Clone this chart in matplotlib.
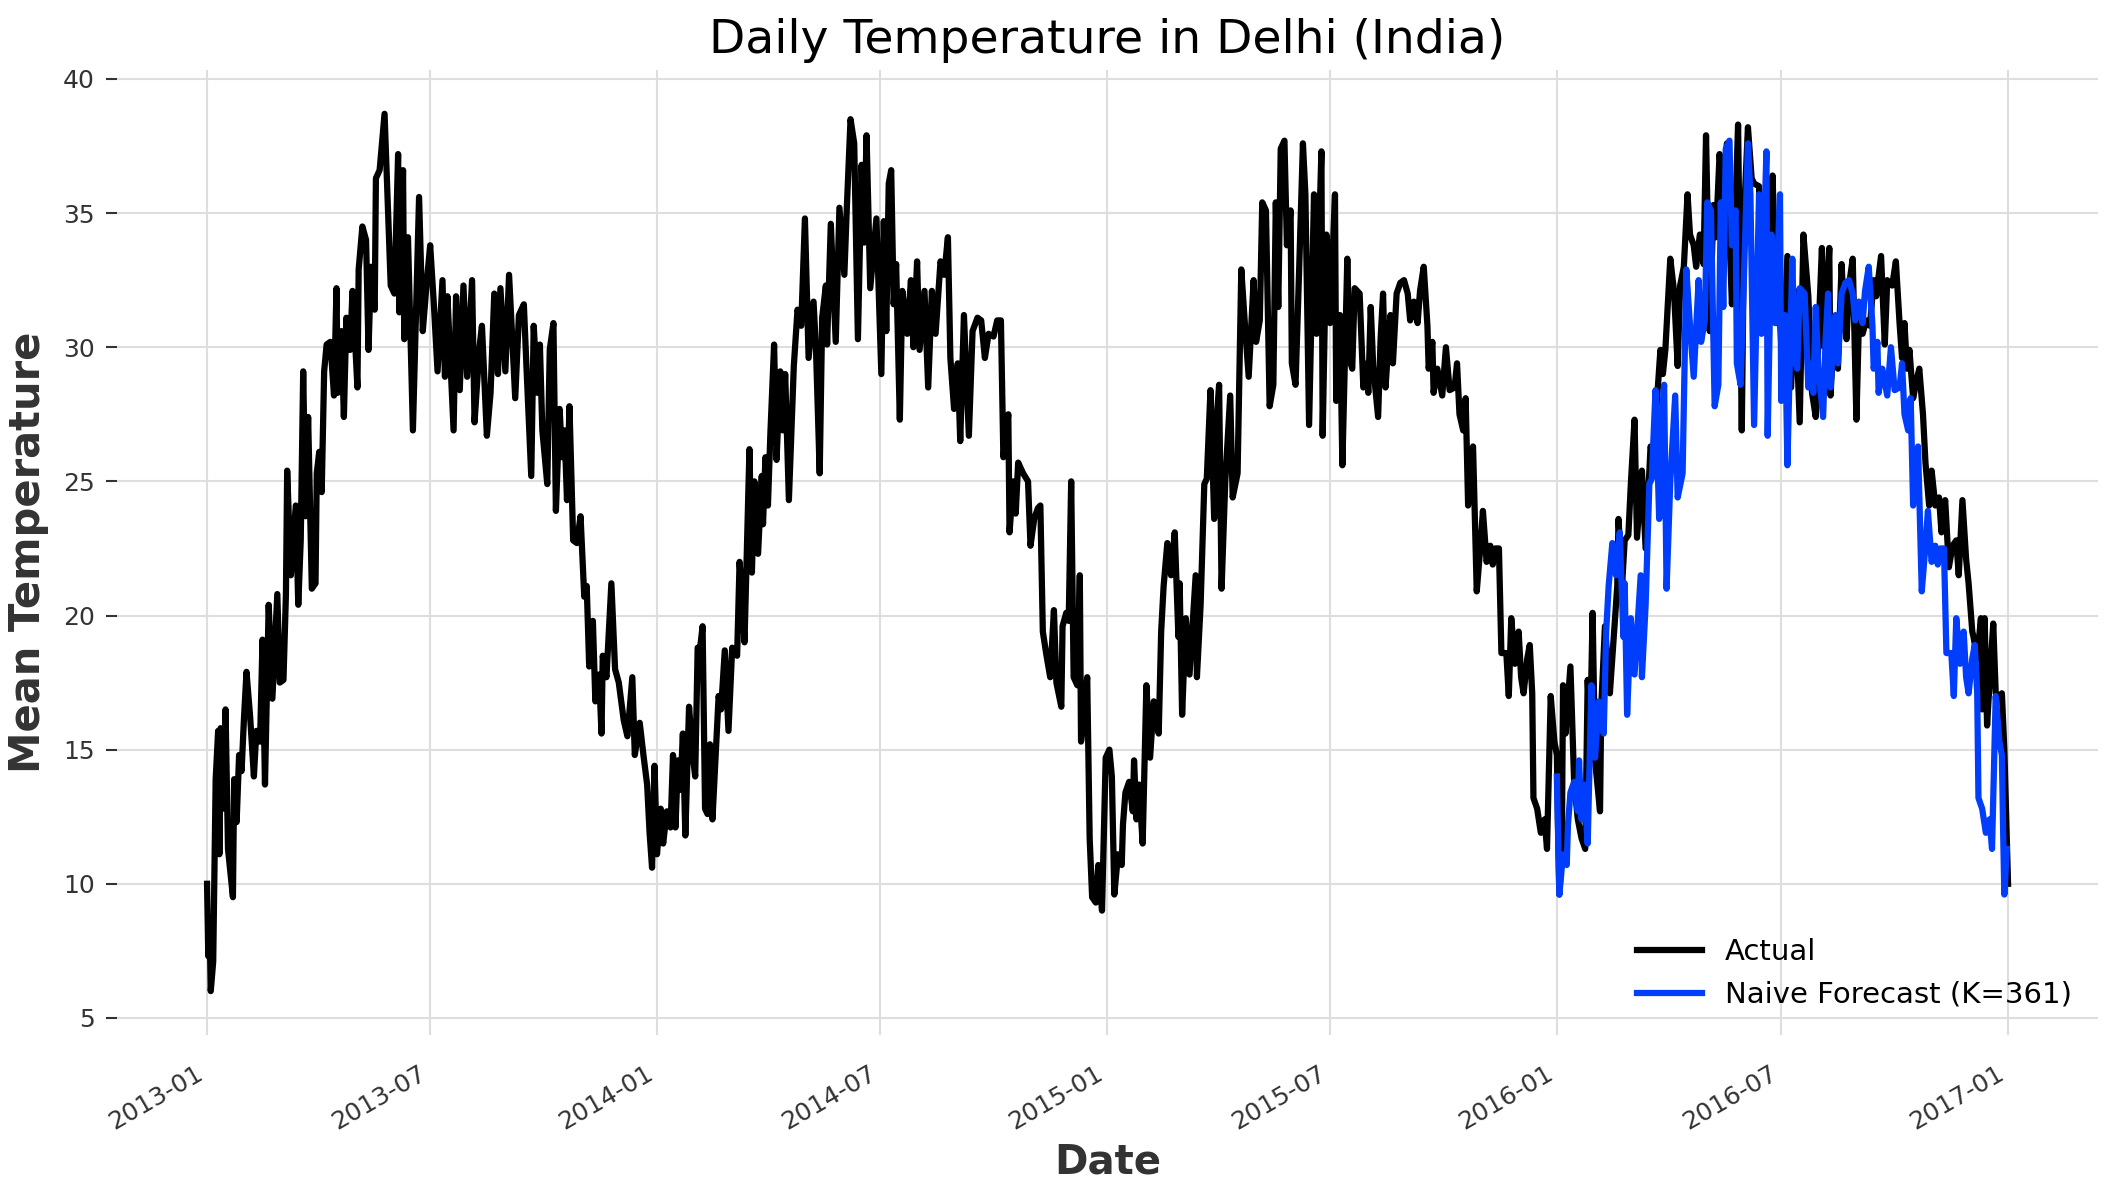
import numpy as np
import matplotlib
matplotlib.use("Agg")
import matplotlib.pyplot as plt
import matplotlib.dates as mdates

# Daily mean temperature in Delhi (days counted from 2013-01-01)
start_date = np.datetime64("2013-01-01")
day_offsets = [
    0, 1, 2, 3, 5, 7, 9, 10, 11, 13, 15, 17, 21, 22, 24, 26, 28, 30, 32, 35,
    38, 40, 43, 45, 47, 50, 53, 57, 59, 62, 64, 65, 68, 72, 74, 76, 78, 80, 82, 85,
    88, 89, 91, 93, 95, 97, 100, 103, 105, 106, 109, 111, 113, 116, 118, 122, 123, 126, 129, 131,
    133, 136, 137, 140, 144, 149, 152, 155, 156, 159, 160, 163, 167, 172, 175, 178, 181, 184, 187, 191,
    193, 195, 200, 202, 205, 208, 211, 215, 217, 221, 223, 227, 230, 233, 236, 238, 242, 245, 250, 253,
    257, 259, 263, 265, 268, 270, 272, 276, 278, 281, 283, 286, 288, 290, 292, 294, 297, 300, 303, 306,
    308, 310, 313, 315, 318, 320, 321, 324, 328, 331, 334, 338, 341, 345, 347, 351, 354, 357, 359, 361,
    363, 365, 368, 370, 373, 376, 378, 380, 382, 384, 386, 388, 391, 394, 396, 398, 400, 402, 404, 406,
    408, 410, 413, 415, 417, 420, 423, 426, 430, 432, 434, 436, 440, 442, 444, 447, 450, 451, 453, 455,
    457, 460, 462, 465, 467, 469, 472, 476, 479, 482, 485, 488, 492, 494, 497, 499, 502, 503, 506, 510,
    513, 517, 519, 522, 525, 528, 531, 533, 535, 538, 543, 547, 549, 551, 553, 555, 557, 559, 562, 564,
    568, 571, 573, 576, 578, 582, 585, 588, 591, 595, 598, 601, 603, 606, 609, 611, 614, 618, 621, 625,
    628, 631, 634, 638, 641, 644, 646, 650, 651, 654, 656, 658, 662, 666, 668, 671, 674, 676, 678, 681,
    684, 687, 689, 693, 694, 697, 699, 701, 703, 706, 708, 709, 711, 714, 716, 718, 721, 723, 726, 729,
    732, 734, 736, 739, 742, 743, 745, 748, 751, 752, 754, 756, 759, 762, 765, 768, 772, 774, 776, 779,
    782, 785, 788, 789, 791, 794, 797, 802, 803, 806, 809, 811, 814, 817, 819, 821, 823, 826, 830, 832,
    836, 839, 842, 845, 849, 851, 854, 856, 859, 862, 865, 867, 869, 871, 874, 876, 879, 880, 883, 886,
    889, 891, 894, 898, 900, 902, 904, 905, 908, 911, 915, 916, 919, 921, 925, 927, 929, 931, 935, 938,
    941, 942, 944, 946, 950, 952, 954, 956, 958, 960, 962, 965, 968, 971, 974, 976, 979, 982, 984, 987,
    990, 991, 994, 995, 998, 1002, 1005, 1008, 1012, 1014, 1016, 1019, 1021, 1023, 1027, 1029, 1030, 1033, 1035, 1038,
    1041, 1043, 1045, 1048, 1050, 1054, 1056, 1058, 1061, 1064, 1066, 1068, 1071, 1073, 1075, 1076, 1079, 1082, 1085, 1087,
    1090, 1093, 1095, 1096, 1097, 1098, 1099, 1100, 1102, 1106, 1109, 1112, 1115, 1118, 1120, 1122, 1124, 1126, 1130, 1131,
    1134, 1138, 1141, 1144, 1145, 1148, 1150, 1153, 1155, 1158, 1160, 1164, 1167, 1171, 1174, 1176, 1179, 1181, 1183, 1187,
    1190, 1193, 1195, 1198, 1201, 1203, 1206, 1208, 1211, 1214, 1216, 1219, 1222, 1224, 1227, 1230, 1233, 1235, 1237, 1239,
    1242, 1245, 1247, 1250, 1253, 1255, 1259, 1262, 1264, 1268, 1270, 1273, 1276, 1278, 1282, 1285, 1288, 1292, 1295, 1299,
    1302, 1305, 1308, 1310, 1312, 1316, 1317, 1320, 1323, 1326, 1328, 1330, 1332, 1335, 1338, 1340, 1343, 1346, 1349, 1352,
    1354, 1358, 1361, 1363, 1367, 1370, 1373, 1375, 1377, 1379, 1381, 1384, 1387, 1389, 1392, 1394, 1397, 1399, 1402, 1405,
    1407, 1410, 1413, 1416, 1419, 1421, 1424, 1427, 1429, 1432, 1433, 1436, 1439, 1440, 1442, 1444, 1446, 1449, 1451, 1454,
    1456, 1458, 1460, 1461,
]
temps = [
    10.0, 7.3, 8.7, 6.0, 7.1, 13.9, 15.7, 11.1, 15.8, 12.8, 16.5, 11.3, 9.5, 13.9, 12.3, 14.8, 14.2, 16.2, 17.9, 16.2,
    14.0, 15.7, 15.3, 19.1, 13.7, 20.4, 16.9, 20.8, 17.5, 17.6, 20.8, 25.4, 21.5, 24.1, 20.4, 22.8, 29.1, 23.7, 27.4, 21.0,
    21.2, 25.3, 26.1, 24.6, 29.1, 30.1, 30.2, 28.2, 32.2, 28.3, 30.6, 27.4, 31.1, 29.9, 32.1, 28.5, 32.9, 34.5, 34.0, 29.9,
    33.0, 31.4, 36.3, 36.6, 38.7, 32.3, 32.0, 37.2, 31.3, 36.6, 30.3, 34.1, 26.9, 35.6, 30.6, 32.3, 33.8, 31.6, 29.1, 32.5,
    28.9, 31.9, 26.9, 31.9, 28.4, 32.3, 28.9, 32.5, 27.2, 30.0, 30.8, 26.7, 28.3, 32.0, 29.0, 32.2, 29.1, 32.7, 28.1, 31.2,
    31.6, 29.4, 25.2, 30.8, 28.3, 30.1, 26.9, 24.9, 29.9, 30.9, 23.9, 27.7, 25.9, 26.9, 24.3, 27.8, 22.8, 22.7, 23.7, 20.7,
    21.1, 18.1, 19.8, 16.8, 17.8, 15.6, 18.5, 17.7, 21.2, 18.0, 17.5, 16.1, 15.5, 17.7, 14.8, 16.0, 14.8, 13.7, 11.9, 10.6,
    14.4, 11.1, 12.8, 11.5, 12.7, 12.1, 14.8, 12.1, 14.6, 13.5, 15.6, 11.8, 16.6, 14.8, 14.0, 18.8, 18.8, 19.6, 12.8, 12.6,
    15.2, 12.4, 15.2, 17.0, 16.5, 18.7, 15.7, 18.8, 18.5, 22.0, 20.7, 19.0, 26.2, 21.6, 25.0, 22.3, 25.2, 23.4, 25.9, 24.1,
    26.8, 30.1, 25.8, 29.1, 26.9, 29.0, 24.3, 29.3, 31.4, 30.8, 34.8, 29.6, 31.7, 29.9, 25.3, 31.1, 32.3, 30.1, 34.6, 30.2,
    35.2, 32.7, 35.2, 38.5, 37.6, 30.3, 36.8, 33.9, 37.9, 32.2, 34.8, 29.0, 34.7, 30.6, 36.1, 36.6, 31.6, 33.1, 27.3, 32.1,
    30.5, 32.5, 30.0, 33.2, 29.9, 32.1, 28.5, 32.1, 30.5, 33.2, 32.7, 34.1, 29.6, 27.7, 29.4, 26.5, 31.2, 26.7, 30.6, 31.1,
    31.0, 29.6, 30.5, 30.4, 31.0, 31.0, 25.9, 27.5, 23.1, 25.0, 23.8, 25.7, 25.3, 25.0, 22.6, 23.6, 24.0, 24.1, 19.4, 18.5,
    17.7, 20.2, 17.5, 16.6, 19.6, 20.1, 19.8, 25.0, 17.7, 17.4, 21.5, 15.3, 16.1, 17.7, 11.7, 9.5, 9.3, 10.7, 9.0, 14.7,
    15.0, 14.0, 9.6, 11.1, 10.7, 12.2, 13.4, 13.8, 12.7, 14.6, 12.4, 13.7, 11.5, 17.4, 14.7, 16.8, 15.6, 19.4, 21.1, 22.7,
    21.5, 23.1, 19.2, 21.2, 16.3, 19.9, 17.8, 21.5, 17.7, 20.4, 24.9, 25.1, 28.4, 23.6, 27.3, 28.6, 21.0, 25.0, 28.2, 24.4,
    25.3, 32.9, 30.8, 28.9, 32.5, 30.2, 31.0, 35.4, 35.1, 27.8, 28.6, 35.4, 31.5, 37.4, 37.7, 33.8, 35.1, 29.4, 28.6, 33.0,
    37.6, 35.7, 27.1, 35.7, 30.5, 34.1, 37.3, 26.7, 34.2, 30.9, 35.7, 28.0, 31.2, 25.6, 33.3, 29.5, 29.2, 32.2, 32.0, 28.5,
    29.4, 28.3, 31.5, 29.3, 27.4, 30.3, 32.0, 28.5, 29.9, 31.2, 29.4, 32.0, 32.4, 32.5, 32.0, 31.0, 31.7, 30.9, 32.1, 33.0,
    30.8, 29.2, 30.2, 28.3, 29.2, 28.2, 30.0, 28.4, 28.5, 29.4, 27.5, 26.9, 28.1, 24.1, 26.3, 22.8, 20.9, 22.6, 23.9, 22.0,
    22.6, 21.9, 22.5, 22.5, 18.6, 18.6, 17.0, 19.9, 18.2, 19.4, 17.7, 17.1, 18.4, 18.9, 17.1, 13.2, 12.8, 11.9, 12.4, 11.3,
    17.0, 15.3, 14.8, 12.0, 9.6, 10.4, 11.3, 17.4, 15.6, 18.1, 13.8, 12.4, 11.7, 11.3, 17.6, 15.5, 20.1, 14.6, 12.7, 16.6,
    19.6, 17.1, 19.1, 21.1, 23.6, 21.2, 22.8, 23.0, 24.9, 27.3, 22.9, 25.4, 22.5, 26.3, 25.9, 27.9, 29.9, 29.0, 29.9, 33.3,
    32.1, 29.3, 32.3, 33.0, 35.7, 34.2, 33.8, 33.0, 34.2, 33.1, 37.9, 30.6, 35.3, 34.1, 37.2, 35.5, 37.6, 34.2, 31.6, 33.8,
    38.3, 26.9, 35.1, 38.2, 36.3, 36.1, 36.0, 30.9, 33.8, 34.3, 36.4, 30.9, 31.1, 29.1, 33.4, 28.5, 32.1, 27.2, 34.2, 31.9,
    28.3, 27.4, 31.4, 33.7, 30.0, 33.7, 28.2, 30.8, 29.2, 33.1, 31.1, 30.3, 32.3, 33.3, 27.3, 30.9, 30.5, 31.0, 30.8, 32.5,
    31.9, 33.4, 30.1, 32.5, 32.3, 33.2, 30.9, 29.6, 30.9, 29.2, 29.9, 28.1, 28.8, 29.2, 27.5, 25.7, 24.1, 25.4, 24.1, 24.4,
    23.1, 24.3, 21.8, 22.6, 22.8, 21.5, 24.3, 22.1, 21.2, 19.4, 19.2, 18.4, 19.9, 16.5, 19.9, 15.9, 17.5, 19.7, 17.1, 17.0,
    17.1, 15.0, 11.7, 10.0,
]

# naive seasonal forecast: value from K days earlier, over the year 2016
K = 361
forecast_first_day = 1095   # 2016-01-01
forecast_last_day = 1460    # 2016-12-31

day_offsets = np.array(day_offsets)
temps = np.array(temps)
dates = start_date + day_offsets.astype("timedelta64[D]")

src = (day_offsets + K >= forecast_first_day) & (day_offsets + K <= forecast_last_day)
fc_dates = start_date + (day_offsets[src] + K).astype("timedelta64[D]")
fc_temps = temps[src]

plt.rcParams["font.family"] = ["DejaVu Sans"]

fig = plt.figure(figsize=(21.08, 11.94), dpi=100)
ax = fig.add_axes([0.0555, 0.1332, 0.9398, 0.8082])

ax.plot(dates, temps, color="#000000", lw=4.5, label="Actual")
ax.plot(fc_dates, fc_temps, color="#003DFD", lw=4.5, label="Naive Forecast (K=361)")

for s in ax.spines.values():
    s.set_visible(False)
ax.grid(True, color="#dedede", lw=1.5)
ax.set_axisbelow(True)

ax.xaxis.set_major_locator(mdates.MonthLocator(bymonth=[1, 7]))
ax.xaxis.set_major_formatter(mdates.DateFormatter("%Y-%m"))
ax.set_yticks([5, 10, 15, 20, 25, 30, 35, 40])
ax.tick_params(axis="x", length=0, pad=19, labelsize=18, labelcolor="#333333")
ax.tick_params(axis="y", length=8, width=1.5, color="#333333", pad=8,
               labelsize=18, labelcolor="#333333")
for lbl in ax.get_xticklabels():
    lbl.set_rotation(30)
    lbl.set_ha("right")

ax.set_title("Daily Temperature in Delhi (India)", fontsize=34, pad=12)
ax.set_xlabel("Date", fontsize=29, fontweight="bold", color="#333333", labelpad=6)
ax.set_ylabel("Mean Temperature", fontsize=30, fontweight="bold", color="#333333", labelpad=10)

ax.legend(loc="lower right", frameon=False, fontsize=21, handlelength=2.2)

fig.savefig("out.png", dpi=100)
